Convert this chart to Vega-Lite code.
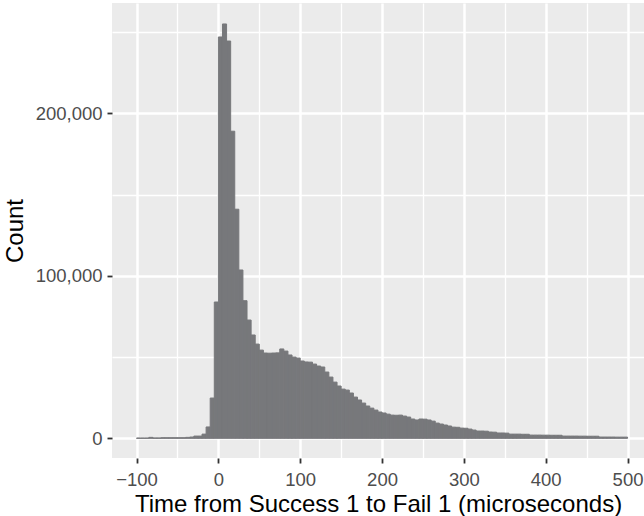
{
  "$schema": "https://vega.github.io/schema/vega-lite/v6.json",
  "width": 532,
  "height": 455,
  "autosize": {"type": "none"},
  "padding": {"left": 112, "top": 3, "right": 0, "bottom": 58},
  "background": "white",
  "config": {
    "view": {"fill": "#EBEBEB", "stroke": null},
    "axis": {
      "domain": false,
      "gridColor": "white",
      "tickColor": "#333333",
      "tickSize": 5,
      "labelFont": "Liberation Sans",
      "labelFontSize": 18.5,
      "labelColor": "#4d4d4d",
      "titleFont": "Liberation Sans",
      "titleFontSize": 24,
      "titleFontWeight": "normal",
      "titleColor": "black",
      "labelOverlap": false,
      "labelFlush": false
    }
  },
  "data": {"values": [
    {"s": -100, "e": -95, "n": 200},
    {"s": -95, "e": -90, "n": 200},
    {"s": -90, "e": -85, "n": 200},
    {"s": -85, "e": -80, "n": 600},
    {"s": -80, "e": -75, "n": 250},
    {"s": -75, "e": -70, "n": 250},
    {"s": -70, "e": -65, "n": 400},
    {"s": -65, "e": -60, "n": 400},
    {"s": -60, "e": -55, "n": 400},
    {"s": -55, "e": -50, "n": 400},
    {"s": -50, "e": -45, "n": 400},
    {"s": -45, "e": -40, "n": 400},
    {"s": -40, "e": -35, "n": 600},
    {"s": -35, "e": -30, "n": 800},
    {"s": -30, "e": -25, "n": 1400},
    {"s": -25, "e": -20, "n": 1400},
    {"s": -20, "e": -15, "n": 2600},
    {"s": -15, "e": -10, "n": 7000},
    {"s": -10, "e": -5, "n": 24800},
    {"s": -5, "e": 0, "n": 83900},
    {"s": 0, "e": 5, "n": 247000},
    {"s": 5, "e": 10, "n": 255000},
    {"s": 10, "e": 15, "n": 244500},
    {"s": 15, "e": 20, "n": 189000},
    {"s": 20, "e": 25, "n": 141000},
    {"s": 25, "e": 30, "n": 103600},
    {"s": 30, "e": 35, "n": 84700},
    {"s": 35, "e": 40, "n": 72800},
    {"s": 40, "e": 45, "n": 63600},
    {"s": 45, "e": 50, "n": 58000},
    {"s": 50, "e": 55, "n": 54300},
    {"s": 55, "e": 60, "n": 52500},
    {"s": 60, "e": 65, "n": 52400},
    {"s": 65, "e": 70, "n": 52500},
    {"s": 70, "e": 75, "n": 52600},
    {"s": 75, "e": 80, "n": 55000},
    {"s": 80, "e": 85, "n": 53700},
    {"s": 85, "e": 90, "n": 51300},
    {"s": 90, "e": 95, "n": 50000},
    {"s": 95, "e": 100, "n": 49400},
    {"s": 100, "e": 105, "n": 47600},
    {"s": 105, "e": 110, "n": 47000},
    {"s": 110, "e": 115, "n": 46900},
    {"s": 115, "e": 120, "n": 45700},
    {"s": 120, "e": 125, "n": 44500},
    {"s": 125, "e": 130, "n": 43900},
    {"s": 130, "e": 135, "n": 40800},
    {"s": 135, "e": 140, "n": 37700},
    {"s": 140, "e": 145, "n": 34600},
    {"s": 145, "e": 150, "n": 32200},
    {"s": 150, "e": 155, "n": 30300},
    {"s": 155, "e": 160, "n": 29700},
    {"s": 160, "e": 165, "n": 27900},
    {"s": 165, "e": 170, "n": 25400},
    {"s": 170, "e": 175, "n": 23600},
    {"s": 175, "e": 180, "n": 21700},
    {"s": 180, "e": 185, "n": 19900},
    {"s": 185, "e": 190, "n": 18600},
    {"s": 190, "e": 195, "n": 17400},
    {"s": 195, "e": 200, "n": 16200},
    {"s": 200, "e": 205, "n": 15600},
    {"s": 205, "e": 210, "n": 14900},
    {"s": 210, "e": 215, "n": 14300},
    {"s": 215, "e": 220, "n": 14200},
    {"s": 220, "e": 225, "n": 14300},
    {"s": 225, "e": 230, "n": 13700},
    {"s": 230, "e": 235, "n": 13100},
    {"s": 235, "e": 240, "n": 11900},
    {"s": 240, "e": 245, "n": 11300},
    {"s": 245, "e": 250, "n": 11900},
    {"s": 250, "e": 255, "n": 11800},
    {"s": 255, "e": 260, "n": 11300},
    {"s": 260, "e": 265, "n": 10600},
    {"s": 265, "e": 270, "n": 9400},
    {"s": 270, "e": 275, "n": 8800},
    {"s": 275, "e": 280, "n": 8200},
    {"s": 280, "e": 285, "n": 7600},
    {"s": 285, "e": 290, "n": 6900},
    {"s": 290, "e": 295, "n": 6800},
    {"s": 295, "e": 300, "n": 6300},
    {"s": 300, "e": 305, "n": 6200},
    {"s": 305, "e": 310, "n": 5700},
    {"s": 310, "e": 315, "n": 5100},
    {"s": 315, "e": 320, "n": 4500},
    {"s": 320, "e": 325, "n": 4500},
    {"s": 325, "e": 330, "n": 4400},
    {"s": 330, "e": 335, "n": 3900},
    {"s": 335, "e": 340, "n": 3800},
    {"s": 340, "e": 345, "n": 3300},
    {"s": 345, "e": 350, "n": 3300},
    {"s": 350, "e": 355, "n": 3200},
    {"s": 355, "e": 360, "n": 2600},
    {"s": 360, "e": 365, "n": 2600},
    {"s": 365, "e": 370, "n": 2600},
    {"s": 370, "e": 375, "n": 2500},
    {"s": 375, "e": 380, "n": 2500},
    {"s": 380, "e": 385, "n": 2000},
    {"s": 385, "e": 390, "n": 2000},
    {"s": 390, "e": 395, "n": 2000},
    {"s": 395, "e": 400, "n": 1950},
    {"s": 400, "e": 405, "n": 1950},
    {"s": 405, "e": 410, "n": 1900},
    {"s": 410, "e": 415, "n": 1900},
    {"s": 415, "e": 420, "n": 1900},
    {"s": 420, "e": 425, "n": 1400},
    {"s": 425, "e": 430, "n": 1400},
    {"s": 430, "e": 435, "n": 1400},
    {"s": 435, "e": 440, "n": 1400},
    {"s": 440, "e": 445, "n": 1350},
    {"s": 445, "e": 450, "n": 1350},
    {"s": 450, "e": 455, "n": 1300},
    {"s": 455, "e": 460, "n": 1300},
    {"s": 460, "e": 465, "n": 1300},
    {"s": 465, "e": 470, "n": 800},
    {"s": 470, "e": 475, "n": 800},
    {"s": 475, "e": 480, "n": 800},
    {"s": 480, "e": 485, "n": 800},
    {"s": 485, "e": 490, "n": 750},
    {"s": 490, "e": 495, "n": 750},
    {"s": 495, "e": 500, "n": 750}
  ]},
  "mark": {"type": "rect", "fill": "#77787b", "stroke": "#77787b", "strokeWidth": 1, "opacity": 1, "strokeOpacity": 1, "fillOpacity": 1},
  "encoding": {
    "x": {
      "field": "s",
      "type": "quantitative",
      "scale": {"domain": [-130, 520.1], "nice": false, "zero": false},
      "axis": {
        "title": "Time from Success 1 to Fail 1 (microseconds)",
        "values": [-100, -50, 0, 50, 100, 150, 200, 250, 300, 350, 400, 450, 500],
        "labelExpr": "datum.value % 100 === 0 ? datum.label : ''",
        "tickOpacity": {"condition": {"test": "datum.value % 100 === 0", "value": 1}, "value": 0},
        "gridWidth": {"condition": {"test": "datum.value % 100 === 0", "value": 2.5}, "value": 1.3},
        "tickWidth": 1.8,
        "labelPadding": 7,
        "titlePadding": 4
      }
    },
    "x2": {"field": "e"},
    "y": {
      "field": "n",
      "type": "quantitative",
      "scale": {"domain": [-12100, 267900], "nice": false, "zero": false},
      "axis": {
        "title": "Count",
        "format": ",d",
        "values": [0, 50000, 100000, 150000, 200000, 250000],
        "labelExpr": "datum.value % 100000 === 0 ? datum.label : ''",
        "tickOpacity": {"condition": {"test": "datum.value % 100000 === 0", "value": 1}, "value": 0},
        "gridWidth": {"condition": {"test": "datum.value % 100000 === 0", "value": 2.5}, "value": 1.3},
        "tickWidth": 1.8,
        "labelPadding": 5,
        "titlePadding": 8
      }
    },
    "y2": {"datum": 0}
  }
}
